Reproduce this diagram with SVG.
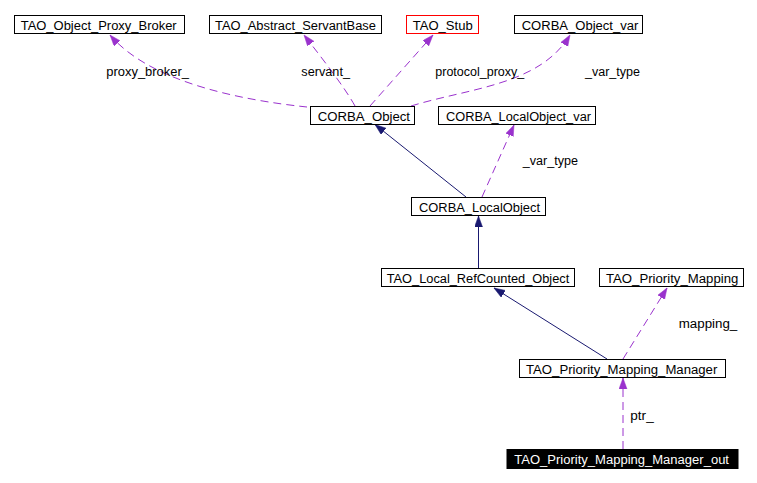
<svg xmlns="http://www.w3.org/2000/svg" width="757" height="483" viewBox="0 0 757 483">
<style>
  .box { fill: #ffffff; stroke: #000000; stroke-width: 1; }
  .lbl { font-family: "Liberation Sans", Arial, sans-serif; font-size: 12px; fill: #000000; }
  .inh { fill: none; stroke: #191970; stroke-width: 1; }
  .use { fill: none; stroke: #9a32cd; stroke-width: 1; stroke-dasharray: 8,5; }
</style>
<defs>
  <marker id="arrNavy" markerUnits="userSpaceOnUse" markerWidth="12" markerHeight="9" refX="11" refY="4" orient="auto">
    <path d="M0,0 L11,4 L0,8 z" fill="#191970" stroke="#191970" stroke-width="0.5"/>
  </marker>
  <marker id="arrPurple" markerUnits="userSpaceOnUse" markerWidth="12" markerHeight="9" refX="11" refY="4" orient="auto">
    <path d="M0,0 L11,4 L0,8 z" fill="#9a32cd" stroke="#9a32cd" stroke-width="0.5"/>
  </marker>
</defs>
<rect x="0" y="0" width="757" height="483" fill="#ffffff"/>

<g id="connectors">
  <path class="use" d="M307,107 C240,100 150,82 110,35" marker-end="url(#arrPurple)"/>
  <path class="use" d="M355,106 C345,88 325,62 304,35" marker-end="url(#arrPurple)"/>
  <path class="use" d="M370,106 L433,35" marker-end="url(#arrPurple)"/>
  <path class="use" d="M411,106 C470,88 540,85 570,35" marker-end="url(#arrPurple)"/>
  <path class="inh" d="M466,197 L375,124.5" marker-end="url(#arrNavy)"/>
  <path class="use" d="M482,197 L514,125" marker-end="url(#arrPurple)"/>
  <path class="inh" d="M478.5,268 L478.5,216" marker-end="url(#arrNavy)"/>
  <path class="inh" d="M607,359 L494,288" marker-end="url(#arrNavy)"/>
  <path class="use" d="M623,359 L667,288" marker-end="url(#arrPurple)"/>
  <path class="use" d="M623,449 L623,378" marker-end="url(#arrPurple)"/>
  <text class="lbl" x="106.3" y="76" textLength="82.7" lengthAdjust="spacingAndGlyphs">proxy_broker_</text>
  <text class="lbl" x="301.3" y="76" textLength="48.7" lengthAdjust="spacingAndGlyphs">servant_</text>
  <text class="lbl" x="435.3" y="76" textLength="89" lengthAdjust="spacingAndGlyphs">protocol_proxy_</text>
  <text class="lbl" x="585" y="76" textLength="55" lengthAdjust="spacingAndGlyphs">_var_type</text>
  <text class="lbl" x="522.7" y="165" textLength="55.3" lengthAdjust="spacingAndGlyphs">_var_type</text>
  <text class="lbl" x="678.7" y="328" textLength="58.6" lengthAdjust="spacingAndGlyphs">mapping_</text>
  <text class="lbl" x="630.3" y="420" textLength="23.4" lengthAdjust="spacingAndGlyphs">ptr_</text>
</g>

<g id="TAO_Object_Proxy_Broker">
  <rect class="box" x="14.5" y="15.5" width="170" height="18"/>
  <text class="lbl" x="20.7" y="29.5" textLength="156" lengthAdjust="spacingAndGlyphs">TAO_Object_Proxy_Broker</text>
</g>
<g id="TAO_Abstract_ServantBase">
  <rect class="box" x="209.5" y="15.5" width="172" height="18"/>
  <text class="lbl" x="215" y="29.5" textLength="161" lengthAdjust="spacingAndGlyphs">TAO_Abstract_ServantBase</text>
</g>
<g id="TAO_Stub">
  <rect class="box" x="406.5" y="15.5" width="72" height="18" style="stroke:#ff0000"/>
  <text class="lbl" x="412.7" y="29.5" textLength="60" lengthAdjust="spacingAndGlyphs">TAO_Stub</text>
</g>
<g id="CORBA_Object_var">
  <rect class="box" x="514.5" y="15.5" width="128" height="18"/>
  <text class="lbl" x="521.7" y="29.5" textLength="116.6" lengthAdjust="spacingAndGlyphs">CORBA_Object_var</text>
</g>
<g id="CORBA_Object">
  <rect class="box" x="310.5" y="106.5" width="104" height="18"/>
  <text class="lbl" x="317.7" y="120.5" textLength="92.3" lengthAdjust="spacingAndGlyphs">CORBA_Object</text>
</g>
<g id="CORBA_LocalObject_var">
  <rect class="box" x="438.5" y="106.5" width="157" height="18"/>
  <text class="lbl" x="446" y="120.5" textLength="145" lengthAdjust="spacingAndGlyphs">CORBA_LocalObject_var</text>
</g>
<g id="CORBA_LocalObject">
  <rect class="box" x="411.5" y="197.5" width="134" height="18"/>
  <text class="lbl" x="419" y="211.5" textLength="121" lengthAdjust="spacingAndGlyphs">CORBA_LocalObject</text>
</g>
<g id="TAO_Local_RefCounted_Object">
  <rect class="box" x="381.5" y="268.5" width="193" height="18"/>
  <text class="lbl" x="386.7" y="282.5" textLength="182.6" lengthAdjust="spacingAndGlyphs">TAO_Local_RefCounted_Object</text>
</g>
<g id="TAO_Priority_Mapping">
  <rect class="box" x="599.5" y="268.5" width="144" height="18"/>
  <text class="lbl" x="606" y="282.5" textLength="132.3" lengthAdjust="spacingAndGlyphs">TAO_Priority_Mapping</text>
</g>
<g id="TAO_Priority_Mapping_Manager">
  <rect class="box" x="519.5" y="359.5" width="206" height="18"/>
  <text class="lbl" x="526" y="373.5" textLength="191.3" lengthAdjust="spacingAndGlyphs">TAO_Priority_Mapping_Manager</text>
</g>
<g id="TAO_Priority_Mapping_Manager_out">
  <rect x="507" y="449.5" width="231" height="19" fill="#000000" stroke="#000000"/>
  <text class="lbl" x="514.3" y="464" textLength="214.7" lengthAdjust="spacingAndGlyphs" style="fill:#ffffff">TAO_Priority_Mapping_Manager_out</text>
</g>
</svg>
